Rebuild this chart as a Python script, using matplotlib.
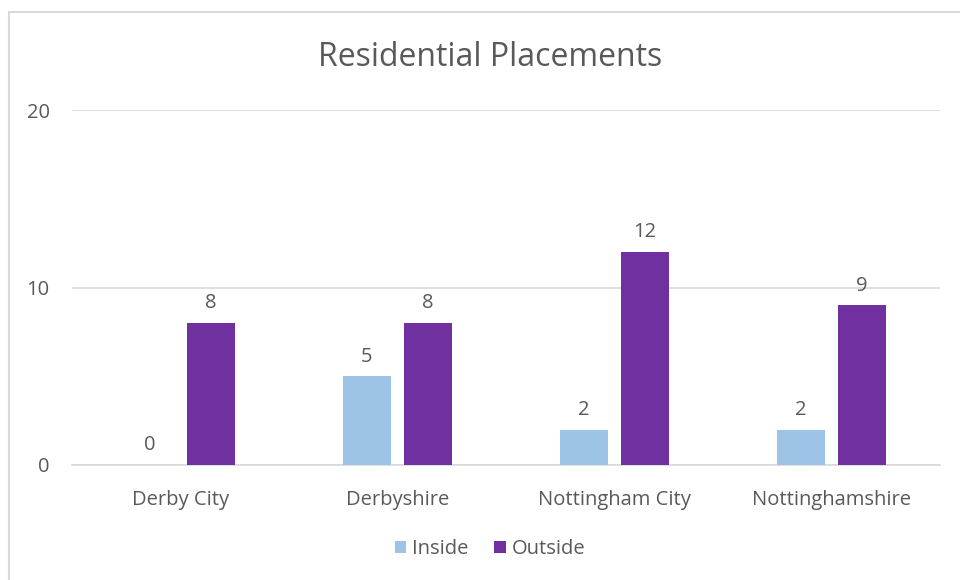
import matplotlib
matplotlib.use("Agg")
import matplotlib.pyplot as plt
import numpy as np
from matplotlib.patches import Rectangle

categories = ["Derby City", "Derbyshire", "Nottingham City", "Nottinghamshire"]
inside = [0, 5, 2, 2]
outside = [8, 8, 12, 9]
series_names = ["Inside", "Outside"]
yticks = [0, 10, 20]

plt.rcParams['font.family'] = ['Open Sans', 'DejaVu Sans']
txt = "#595959"

fig = plt.figure(figsize=(9.6, 5.8), dpi=100)
fig.patches.append(Rectangle((9/960, -0.05), 1.2, 1 - 12/580 + 0.05, transform=fig.transFigure,
                             fill=False, edgecolor="#D9D9D9", linewidth=1.5))
ax = fig.add_axes([72/960, 1 - 465/580, (940 - 72)/960, (465 - 110)/580])

x = np.arange(len(categories))
w = 0.221
off = 0.141
b1 = ax.bar(x - off, inside, w, color="#9DC3E6", label=series_names[0], zorder=3)
b2 = ax.bar(x + off, outside, w, color="#7030A0", label=series_names[1], zorder=3)
for bars, vals in ((b1, inside), (b2, outside)):
    for rect, v in zip(bars, vals):
        ax.annotate(str(v), (rect.get_x() + rect.get_width()/2, v), xytext=(0, 7),
                    textcoords="offset points", ha="center", va="bottom",
                    fontsize=14.5, color=txt)

ax.set_xlim(-0.5, len(categories) - 0.5)
ax.set_ylim(0, 20)
ax.set_yticks(yticks)
ax.set_yticklabels([str(t) for t in yticks])
ax.set_xticks(x)
ax.set_xticklabels(categories)
ax.tick_params(axis='both', length=0, labelsize=14.5, labelcolor=txt)
ax.tick_params(axis='y', pad=16)
ax.tick_params(axis='x', pad=18)
ax.grid(axis='y', color="#D9D9D9", linewidth=1.2, zorder=0)
for s in ["top", "right", "left"]:
    ax.spines[s].set_visible(False)
ax.spines["bottom"].set_color("#D9D9D9")
ax.spines["bottom"].set_linewidth(1.2)

fig.text(490/960, 1 - 57/580, "Residential Placements", ha="center", va="center",
         fontsize=23, color=txt)
fig.legend(handles=[b1, b2], labels=series_names, loc="center", bbox_to_anchor=(490/960, 1 - 549/580),
           ncol=2, frameon=False, fontsize=14.5, labelcolor=txt, handlelength=0.55, handleheight=0.55,
           handletextpad=0.3, columnspacing=1.3)
fig.savefig("out.png", dpi=100)
